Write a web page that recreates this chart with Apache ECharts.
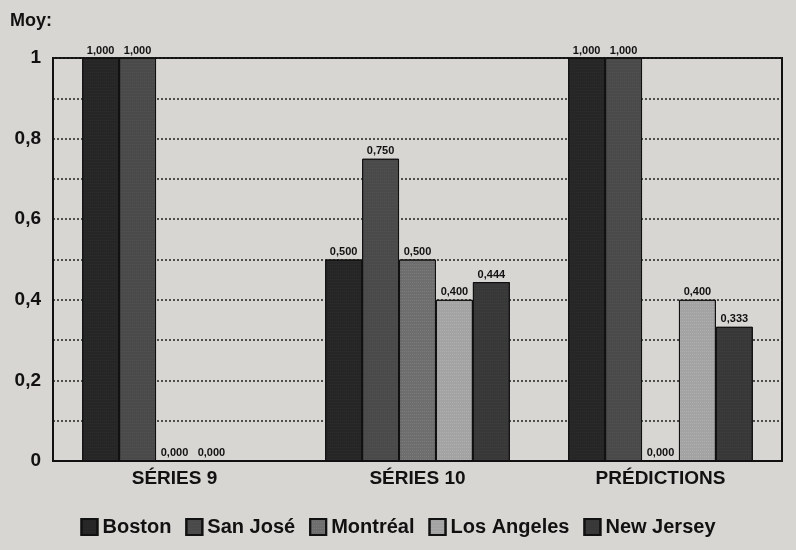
<!DOCTYPE html>
<html>
<head>
<meta charset="utf-8">
<script src="https://cdn.jsdelivr.net/npm/echarts@6/dist/echarts.min.js"></script>
<style>
html,body{margin:0;padding:0;background:#d7d6d3;}
#main{width:796px;height:550px;}
</style>
</head>
<body>
<div id="main"></div>
<script>
var categories = ['SÉRIES 9', 'SÉRIES 10', 'PRÉDICTIONS'];
var seriesNames = ['Boston', 'San José', 'Montréal', 'Los Angeles', 'New Jersey'];
// une ligne par ville, null = pas de valeur
var boston = [1, 0.5, 1];
var sanJose = [1, 0.75, 1];
var montreal = [0, 0.5, 0];
var losAngeles = [0, 0.4, 0.4];
var newJersey = [null, 0.444, 0.333];
var yTicks = [0, 0.2, 0.4, 0.6, 0.8, 1];

var values = [boston, sanJose, montreal, losAngeles, newJersey];
var colors = ['#262626', '#4a4a4a', '#6e6e6e', '#a3a3a3', '#383838'];
var decalColors = ['rgba(90,90,90,0.5)', 'rgba(140,140,140,0.5)', 'rgba(200,200,200,0.6)', 'rgba(235,235,235,0.7)', 'rgba(110,110,110,0.5)'];

function virgule(v, n) {
	return v.toFixed(n).replace('.', ',');
}

var series = [];
for (var i = 0; i < seriesNames.length; i++) {
	series.push({
		name: seriesNames[i],
		type: 'bar',
		data: values[i],
		barGap: '0%',
		barCategoryGap: '24%',
		itemStyle: {
			color: colors[i],
			borderColor: '#111',
			borderWidth: 1,
			decal: {
				symbol: 'rect',
				symbolSize: 0.5,
				dashArrayX: [1, 1],
				dashArrayY: [1, 2],
				color: decalColors[i]
			}
		},
		label: {
			show: true,
			position: 'top',
			distance: 2,
			color: '#111',
			fontFamily: 'Liberation Sans Narrow, Liberation Sans',
			fontWeight: 'bold',
			fontSize: 11,
			formatter: function (p) { return virgule(p.value, 3); }
		}
	});
}

var myChart = echarts.init(document.getElementById('main'));
var option = {
	backgroundColor: '#d7d6d3',
	animation: false,
	graphic: [{
		type: 'text',
		left: 10,
		top: 12,
		style: { text: 'Moy:', font: 'bold 18px "Liberation Sans"', fill: '#111' }
	}],
	grid: {
		left: 53,
		right: 14,
		top: 58,
		bottom: 89,
		show: true,
		backgroundColor: 'transparent',
		borderColor: '#111',
		borderWidth: 2
	},
	legend: {
		bottom: 8,
		left: 'center',
		data: seriesNames,
		icon: 'rect',
		itemWidth: 16,
		itemHeight: 16,
		itemGap: 14,
		textStyle: { fontFamily: 'Liberation Sans', fontWeight: 'bold', fontSize: 20, color: '#111' }
	},
	xAxis: {
		type: 'category',
		data: categories,
		axisLine: { lineStyle: { color: '#111', width: 2 } },
		axisTick: { show: false },
		axisLabel: { fontFamily: 'Liberation Sans', fontWeight: 'bold', fontSize: 19, color: '#111', margin: 8 }
	},
	yAxis: {
		type: 'value',
		min: 0,
		max: 1,
		interval: 0.2,
		axisLine: { show: true, lineStyle: { color: '#111', width: 2 } },
		axisTick: { show: false },
		axisLabel: {
			fontFamily: 'Liberation Sans', fontWeight: 'bold', fontSize: 19, color: '#111', margin: 12,
			formatter: function (v) {
				if (yTicks.indexOf(v) < 0) return '';
				return (v === 0 || v === 1) ? String(v) : virgule(v, 1);
			}
		},
		splitLine: { show: true, lineStyle: { color: '#222', width: 1.5, type: [2, 2] } },
		minorTick: { show: false, splitNumber: 2 },
		minorSplitLine: { show: true, lineStyle: { color: '#222', width: 1.5, type: [2, 2] } }
	},
	series: series
};
myChart.setOption(option);
</script>
</body>
</html>
